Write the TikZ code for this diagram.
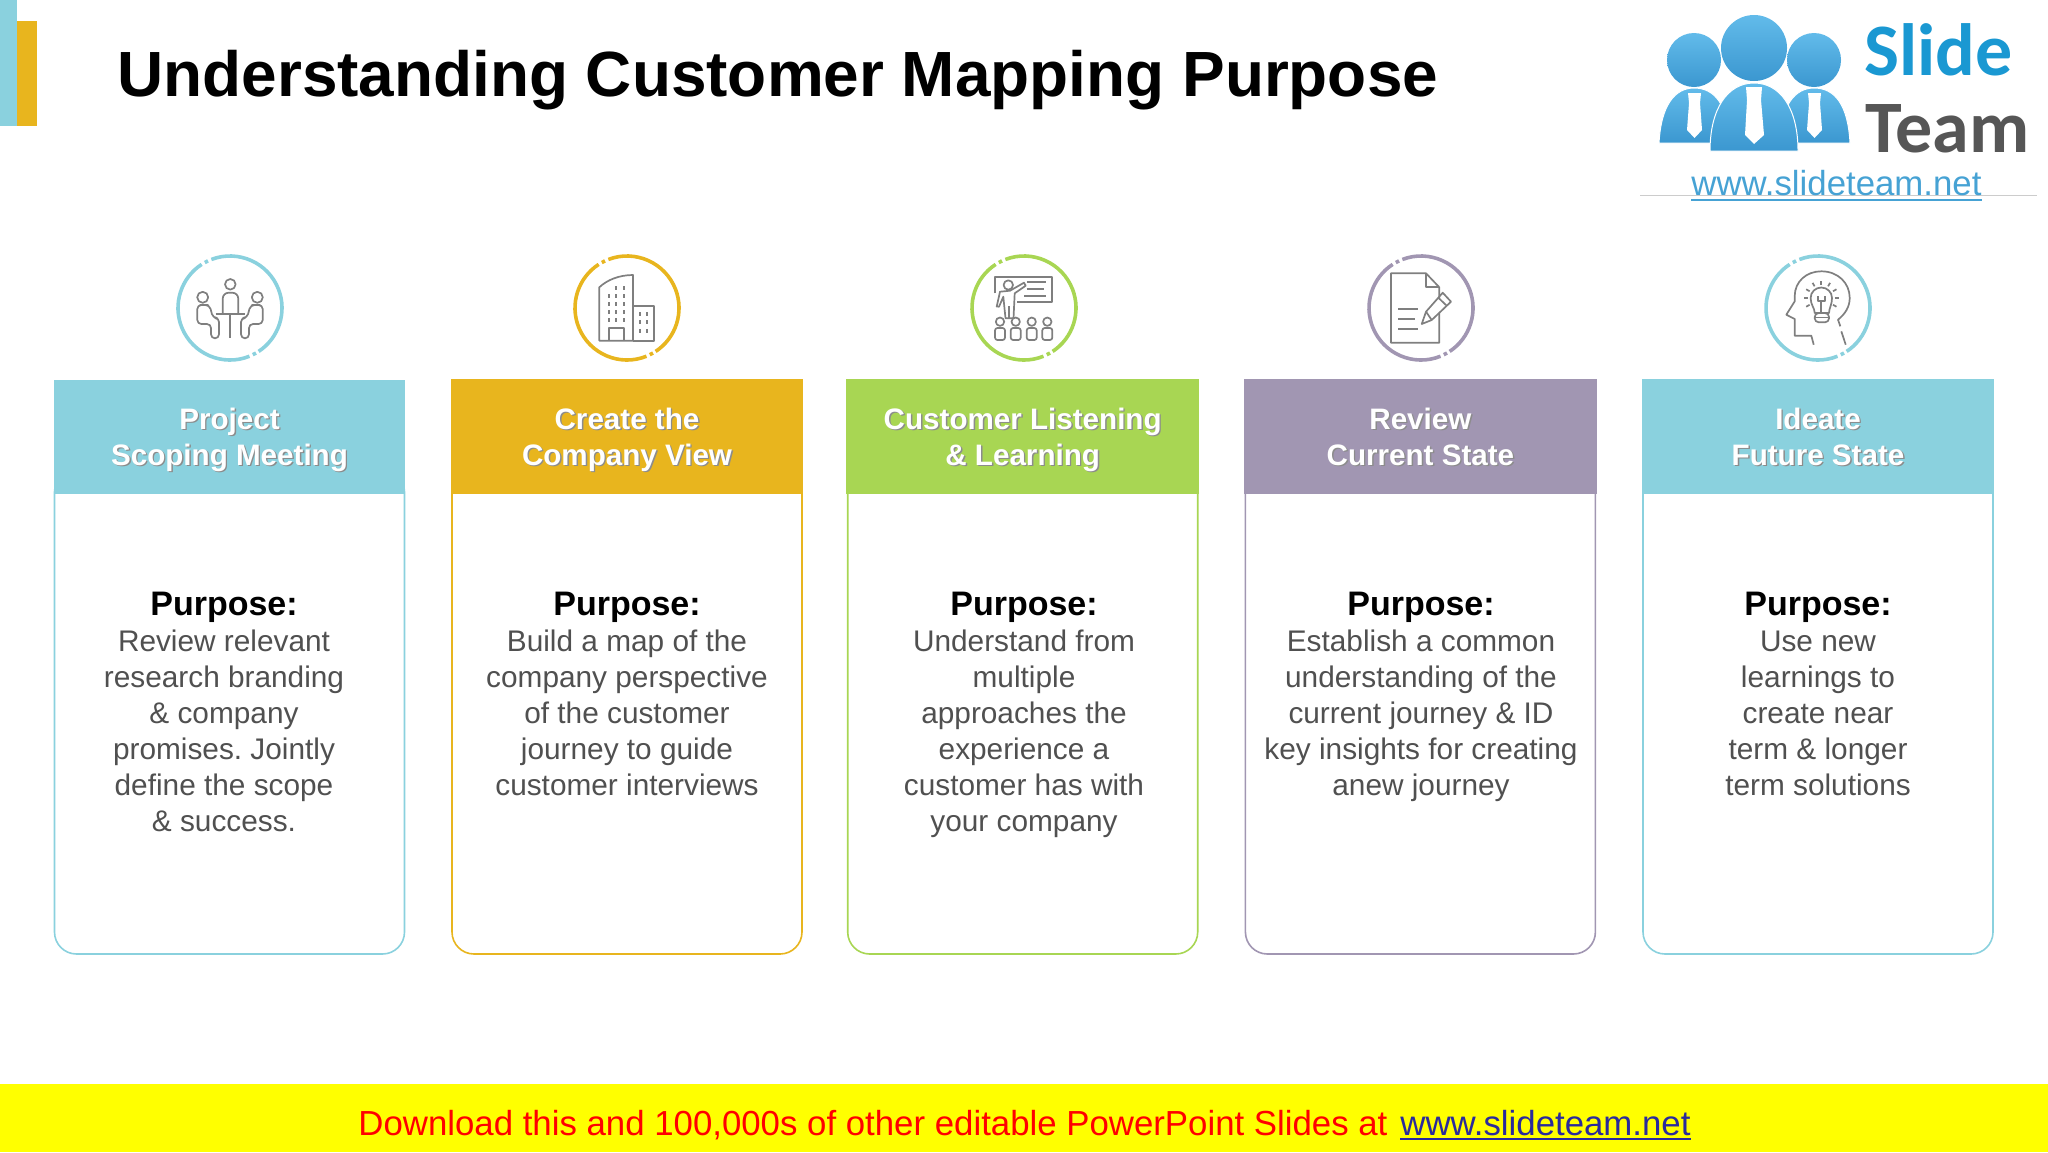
\documentclass[tikz,border=0pt]{standalone}
\usepackage{xcolor}
\usepackage{fontspec}
\usetikzlibrary{calc}
\setmainfont{Liberation Sans}
\newfontfamily\logofont{Carlito}
\definecolor{cteal}{HTML}{8AD1DE}
\definecolor{cyellow}{HTML}{E8B51E}
\definecolor{cgreen}{HTML}{A8D653}
\definecolor{cpurple}{HTML}{A196B2}
\definecolor{cicon}{HTML}{7F7F7F}
\definecolor{cbody}{HTML}{505050}
\definecolor{clogoa}{HTML}{62BBEA}
\definecolor{clogob}{HTML}{3B97D0}
\definecolor{cslide}{HTML}{1A98D2}
\definecolor{cteam}{HTML}{565656}
\definecolor{curl}{HTML}{46A2D4}
\definecolor{clink}{HTML}{2A2A9C}
\definecolor{cbar}{HTML}{FFFF00}
\definecolor{cred}{HTML}{FF0000}
\newcommand{\shtext}[1]{\leavevmode\rlap{\kern0.7pt\raisebox{-0.7pt}{\color{black!45}#1}}#1}
\newcommand{\ringarcs}[2]{%
  \draw[ringline,draw=#2] (#1.111) arc[start angle=111,end angle=-56.6,radius=26pt];
  \draw[ringline,draw=#2] (#1.-60.5) arc[start angle=-60.5,end angle=-64.5,radius=26pt];
  \draw[ringline,draw=#2] (#1.-68) arc[start angle=-68,end angle=-237,radius=26pt];
  \draw[ringline,draw=#2] (#1.119.5) arc[start angle=119.5,end angle=115.5,radius=26pt];}
\begin{document}
\begin{tikzpicture}[x=0.5pt,y=-0.5pt,
    ringbox/.style={circle, minimum size=52pt, inner sep=0, outer sep=0},
    ringline/.style={line width=1.8pt},
    iconline/.style={draw=cicon, line width=0.85pt, line join=round},
    cardbox/.style={rectangle, draw, fill=white, line width=0.8pt, rounded corners=11pt, minimum width=175pt, minimum height=242pt, inner sep=0},
    headbox/.style={rectangle, minimum width=176.3pt, minimum height=57.5pt, inner sep=0, text=white, align=center, font=\fontsize{14.8}{18}\selectfont\bfseries, text height=28.5pt, text depth=0pt},
    bodytext/.style={anchor=base, inner sep=0, align=center, text=cbody, font=\fontsize{14.9}{18}\selectfont},
    purposetext/.style={anchor=base, inner sep=0, text=black, font=\fontsize{17}{18}\selectfont\bfseries}]
  \useasboundingbox (0,0) rectangle (2048,1152);

  % Title
  \fill[cyellow] (17,21) rectangle (37,126);
  \fill[cteal] (0,0) rectangle (17,126);
  \node (T) at (117,96) [anchor=base west, inner sep=0, font=\fontsize{31.95}{36}\selectfont\bfseries] {Understanding Customer Mapping Purpose};

  % Logo
  \coordinate (LA) at (1640,195);
  \coordinate (LB) at (2037,195);
  \draw[black!20, line width=0.5pt] (LA) -- (LB);
  \path[draw=white, line width=0.5pt, top color=clogoa, bottom color=clogob] (1659,143) .. controls (1661,105) and (1675,88) .. (1694,88) .. controls (1715,88) and (1728,105) .. (1730,143) -- cycle;
  \path[draw=white, line width=0.5pt, top color=clogoa, bottom color=clogob] (1779,143) .. controls (1781,105) and (1795,88) .. (1814,88) .. controls (1835,88) and (1848,105) .. (1850,143) -- cycle;
  \shade[top color=clogoa, bottom color=clogob] (1694,60) circle (27);
  \shade[top color=clogoa, bottom color=clogob] (1814,60) circle (27);
  \shade[top color=clogoa, bottom color=clogob] (1754,48) circle (33);
  \path[draw=white, line width=0.5pt, top color=clogoa, bottom color=clogob] (1710,151) .. controls (1710,108) and (1728,83) .. (1754,83) .. controls (1780,83) and (1798,108) .. (1798,151) -- cycle;
  \fill[white] (1688,93) -- (1701,93) -- (1700,103) -- (1702,130) -- (1694.5,138) -- (1687,130) -- (1689,103) -- cycle;
  \fill[white] (1808,93) -- (1821,93) -- (1820,103) -- (1822,130) -- (1814.5,138) -- (1807,130) -- (1809,103) -- cycle;
  \fill[white] (1746,87) -- (1762,87) -- (1761,100) -- (1764,135) -- (1754,144) -- (1745,135) -- (1747,100) -- cycle;
  \node (S) at (1864,75) [anchor=base west, inner sep=0, text=cslide, font=\logofont\fontsize{37}{40}\selectfont\bfseries] {Slide};
  \node (M) at (1865,152) [anchor=base west, inner sep=0, text=cteam, font=\logofont\fontsize{37}{40}\selectfont\bfseries] {Team};
  \node (U) at (1691,195) [anchor=base west, inner sep=0, text=curl, font=\fontsize{17.4}{20}\selectfont] {www.slideteam.net};
  \draw[curl, line width=1pt] ([yshift=-2.5pt]U.base west) -- ([yshift=-2.5pt]U.base east);

  % Cards
  \node (C1) at (229.5,712) [cardbox, draw=cteal] {};
  \node (C2) at (627,712) [cardbox, draw=cyellow] {};
  \node (C3) at (1022.7,712) [cardbox, draw=cgreen] {};
  \node (C4) at (1420.4,712) [cardbox, draw=cpurple] {};
  \node (C5) at (1818,712) [cardbox, draw=cteal] {};

  % Headers
  \node (H1) at (229.5,437) [headbox, minimum width=175.5pt, minimum height=57pt, fill=cteal] {\shtext{Project}\\\shtext{Scoping Meeting}};
  \node (H2) at (627,436.5) [headbox, fill=cyellow] {\shtext{Create the}\\\shtext{Company View}};
  \node (H3) at (1022.7,436.5) [headbox, fill=cgreen] {\shtext{Customer Listening}\\\shtext{\& Learning}};
  \node (H4) at (1420.4,436.5) [headbox, fill=cpurple] {\shtext{Review}\\\shtext{Current State}};
  \node (H5) at (1818,436.5) [headbox, fill=cteal] {\shtext{Ideate}\\\shtext{Future State}};

  % Purpose
  \node (P1) at (224,615.5) [purposetext] {Purpose:};
  \node (P2) at (627,615.5) [purposetext] {Purpose:};
  \node (P3) at (1024,615.5) [purposetext] {Purpose:};
  \node (P4) at (1421,615.5) [purposetext] {Purpose:};
  \node (P5) at (1818,615.5) [purposetext] {Purpose:};
  \node (B1) at (224,831) [bodytext] {Review relevant\\research branding\\\& company\\promises.\ Jointly\\define the scope\\\& success.};
  \node (B2) at (627,795) [bodytext] {Build a map of the\\company perspective\\of the customer\\journey to guide\\customer interviews};
  \node (B3) at (1024,831) [bodytext] {Understand from\\multiple\\approaches the\\experience a\\customer has with\\your company};
  \node (B4) at (1421,795) [bodytext] {Establish a common\\understanding of the\\current journey \& ID\\key insights for creating\\anew journey};
  \node (B5) at (1818,795) [bodytext] {Use new\\learnings to\\create near\\term \& longer\\term solutions};

  % Rings
  \node (R1) at (230,308) [ringbox] {};
  \node (R2) at (627,308) [ringbox] {};
  \node (R3) at (1024,308) [ringbox] {};
  \node (R4) at (1421,308) [ringbox] {};
  \node (R5) at (1818,308) [ringbox] {};
  \ringarcs{R1}{cteal}
  \ringarcs{R2}{cyellow}
  \ringarcs{R3}{cgreen}
  \ringarcs{R4}{cpurple}
  \ringarcs{R5}{cteal}

  % Meeting icon
  \begin{scope}[shift={(R1.center)}]
    \draw[iconline] (0.3,-23.7) circle (5.3);
    \draw[iconline, rounded corners=3pt] (-7.3,5) -- (-7.3,-15.3) -- (8.3,-15.3) -- (8.3,5);
    \draw[iconline] (-14.3,6.3) -- (15,6.3);
    \draw[iconline] (0,6.3) -- (0,30.3);
    \draw[iconline] (-27.3,-10.7) circle (5.5);
    \draw[iconline] (27.3,-10.7) circle (5.5);
    \draw[iconline, rounded corners=2pt] (-26,-3) -- (-32.7,-3) -- (-32.7,16) -- (-19,16) -- (-19,30.3) -- (-11,30.3) -- (-11,10) -- (-17,10) -- (-20.5,-3) -- cycle;
    \draw[iconline, rounded corners=2pt] (26,-3) -- (32.7,-3) -- (32.7,16) -- (19,16) -- (19,30.3) -- (11,30.3) -- (11,10) -- (17,10) -- (20.5,-3) -- cycle;
  \end{scope}

  % Building icon
  \begin{scope}[shift={(R2.center)}]
    \draw[iconline] (-27.7,32.7) -- (-27.7,-20.7) .. controls (-20,-28) and (-8,-33) .. (6,-33) -- (6,32.7) -- cycle;
    \draw[iconline] (6,-2) -- (27.3,-2) -- (27.3,32.7) -- (6,32.7);
    \draw[iconline] (-17.7,32.7) -- (-17.7,20.3) -- (-3.3,20.3) -- (-3.3,32.7);
    \draw[iconline, dash pattern=on 2pt off 2pt] (-18.3,-14) -- (-18.3,14);
    \draw[iconline, dash pattern=on 2pt off 2pt] (-11,-22) -- (-11,14);
    \draw[iconline, dash pattern=on 2pt off 2pt] (-3.3,-22) -- (-3.3,14);
    \draw[iconline, dash pattern=on 2pt off 2.2pt] (12.7,4) -- (12.7,25);
    \draw[iconline, dash pattern=on 2pt off 2.2pt] (20,4) -- (20,25);
  \end{scope}

  % Presenter icon
  \begin{scope}[shift={(R3.center)}]
    \draw[iconline] (-29,-14.7) -- (-29,-31.3) -- (28.3,-31.3) -- (28.3,-6.3) -- (-6.7,-6.3);
    \draw[iconline] (3.3,-25.7) -- (21.7,-25.7);
    \draw[iconline] (2.7,-18.7) -- (20,-18.7);
    \draw[iconline] (0,-12.3) -- (21.7,-12.3);
    \draw[iconline] (-15.7,-23) circle (4.7);
    \draw[iconline] (-14,-17.3) -- (0,-25.3) -- (1.7,-22.3) -- (-9.3,-14.7) -- (-10.5,10.3) -- (-18.5,10.3) -- (-20.7,-11.3) -- (-25,-1.3) -- (-27.3,-1.5) -- (-24,-16.3) -- cycle;
    \draw[iconline] (-15,-2) -- (-15,10.3);
    \draw[iconline] (-24,13.7) circle (4.2);
    \draw[iconline] (-8.3,13.7) circle (4.2);
    \draw[iconline] (7.7,13.7) circle (4.2);
    \draw[iconline] (23.3,13.7) circle (4.2);
    \draw[iconline, rounded corners=1.2pt] (-29,32) rectangle (-19,20);
    \draw[iconline, rounded corners=1.2pt] (-13.3,32) rectangle (-3.3,20);
    \draw[iconline, rounded corners=1.2pt] (2.7,32) rectangle (12.7,20);
    \draw[iconline, rounded corners=1.2pt] (18.3,32) rectangle (28.3,20);
  \end{scope}

  % Document icon
  \begin{scope}[shift={(R4.center)}]
    \draw[iconline] (18.3,-9.7) -- (18.3,-20.7) -- (5,-34.7) -- (-30,-34.7) -- (-30,34.7) -- (18.3,34.7) -- (18.3,5);
    \draw[iconline] (5,-34.7) -- (5,-20.7) -- (18.3,-20.7);
    \draw[iconline] (-22.7,1.3) -- (-2.7,1.3);
    \draw[iconline] (-22.7,11.3) -- (-6,11.3);
    \draw[iconline] (-22.7,21.3) -- (-2.7,21.3);
    \draw[iconline] (0.7,16) -- (5,3.7) -- (21.7,-15.3) -- (30,-6.3) -- (10.7,12) -- cycle;
    \draw[iconline] (5,3.7) -- (10.7,12);
    \draw[iconline] (17.3,-10.3) -- (26,-2);
  \end{scope}

  % Head icon
  \begin{scope}[shift={(R5.center)}]
    \draw[iconline] (-4.3,36.7) -- (-6.7,27.7) -- (-23.3,27.7) -- (-23.3,11) -- (-31.7,6.7) -- (-23.3,-6.7) -- (-23.3,-12) .. controls (-23.3,-26) and (-12,-36.7) .. (3.3,-36.7) .. controls (20,-36.7) and (31.7,-25) .. (31.7,-10) .. controls (31.7,-1) and (27,6) .. (20,11.7) -- (22.3,18.3);
    \draw[iconline] (23.3,23.3) -- (27.7,36.7);
    \draw[iconline] (-3.3,5) .. controls (-3.3,0) and (-7.4,-3) .. (-7.4,-10) .. controls (-7.4,-16) and (-2.5,-20.5) .. (3.3,-20.5) .. controls (9,-20.5) and (14,-16) .. (14,-10) .. controls (14,-3) and (11,0) .. (11,5) -- cycle;
    \draw[iconline, rounded corners=2pt] (-3.3,5) rectangle (11,14.3);
    \draw[iconline] (-3.3,9.5) -- (11,9.5);
    \draw[iconline] (0,-12) -- (0,-7) -- (6.7,-7) -- (6.7,-12);
    \draw[iconline] (3.3,-7) -- (3.3,5);
    \foreach \a in {0,-30,-60,-90,-120,-150,180,30,150}
      \draw[iconline] ($(3.3,-10)+(\a:13.5)$) -- ($(3.3,-10)+(\a:17.5)$);
  \end{scope}

  % Footer
  \fill[cbar] (0,1084) rectangle (2048,1152);
  \node (F1) at (358,1135) [anchor=base west, inner sep=0, text=cred, font=\fontsize{17.4}{20}\selectfont] {Download this and 100,000s of other editable PowerPoint Slides at};
  \node (F2) at (1400,1135) [anchor=base west, inner sep=0, text=clink, font=\fontsize{17.4}{20}\selectfont] {www.slideteam.net};
  \draw[clink, line width=1pt] ([yshift=-2pt]F2.base west) -- ([yshift=-2pt]F2.base east);
\end{tikzpicture}
\end{document}
